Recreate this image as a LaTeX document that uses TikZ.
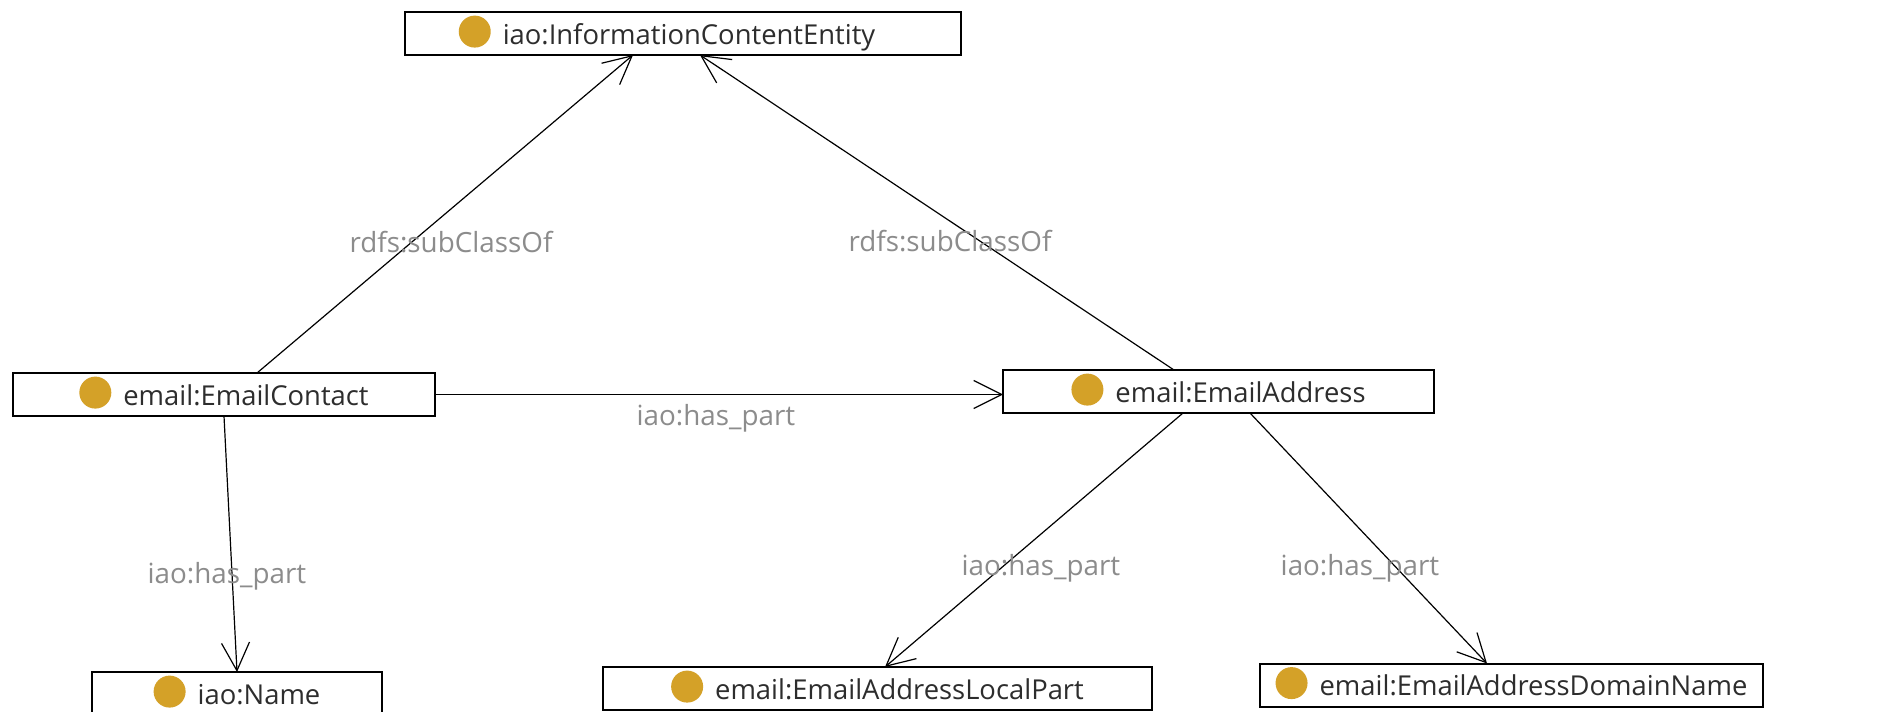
\documentclass[tikz,border=0pt]{standalone}
\usepackage{fontspec}
\setmainfont{Open Sans}
\usetikzlibrary{arrows.meta,calc}
\definecolor{DotClr}{RGB}{212,161,40}
\definecolor{TextClr}{RGB}{45,45,45}
\definecolor{LabelClr}{RGB}{140,140,140}

\newcommand{\classdot}{\tikz[baseline=-6.2pt]\fill[DotClr] (0,0) circle (8pt);\hspace{6pt}}

\tikzset{
  owlclass/.style={draw=black, line width=1pt, fill=white, inner sep=0pt, outer sep=0pt,
    text height=16pt, text depth=5.5pt, text=TextClr, font=\fontsize{13.7}{16}\selectfont},
  relname/.style={text=LabelClr, anchor=base, inner sep=0pt, font=\fontsize{13.9}{16}\selectfont},
  owlarrow/.style={line width=0.6pt, -{Straight Barb[length=14pt,width=14pt,line width=0.6pt]}}
}

\begin{document}
\begin{tikzpicture}[x=0.5pt,y=-0.5pt]
\useasboundingbox[fill=white] (0,0) rectangle (1881,712);

% classes
\node[owlclass,minimum width=278pt] (ice) at (683,33.5) {\classdot iao:InformationContentEntity\kern16pt};
\node[owlclass,minimum width=211pt] (contact) at (224,394.5) {\classdot email:EmailContact};
\node[owlclass,minimum width=215.5pt] (address) at (1218.5,391.5) {\classdot email:EmailAddress};
\node[owlclass,minimum width=145pt] (name) at (237,693.5) {\classdot iao:Name};
\node[owlclass,minimum width=274.5pt] (local) at (877.5,688.5) {\classdot email:EmailAddressLocalPart};
\node[owlclass,minimum width=251.5pt] (domain) at (1511.5,685) {\classdot email:EmailAddressDomainName};

% relations
\draw[owlarrow] ($(contact.north)+(33,0)$) -- ($(ice.south)+(-50,0)$);
\draw[owlarrow] ($(address.north)+(-44.5,0)$) -- ($(ice.south)+(17,0)$);
\draw[owlarrow] (contact.east) -- (contact.east -| address.west);
\draw[owlarrow] (contact.south) -- (name.north);
\draw[owlarrow] ($(address.south)+(-35.5,0)$) -- ($(local.north)+(7.5,0)$);
\draw[owlarrow] ($(address.south)+(31.5,0)$) -- ($(domain.north)+(-24.5,0)$);

\node[relname] (sub1) at (451,252) {rdfs:subClassOf};
\node[relname] (sub2) at (950,251) {rdfs:subClassOf};
\node[relname] (part1) at (716,425) {iao:has\_part};
\node[relname] (part2) at (227,583) {iao:has\_part};
\node[relname] (part3) at (1041,575) {iao:has\_part};
\node[relname] (part4) at (1360,575) {iao:has\_part};

\end{tikzpicture}
\end{document}
